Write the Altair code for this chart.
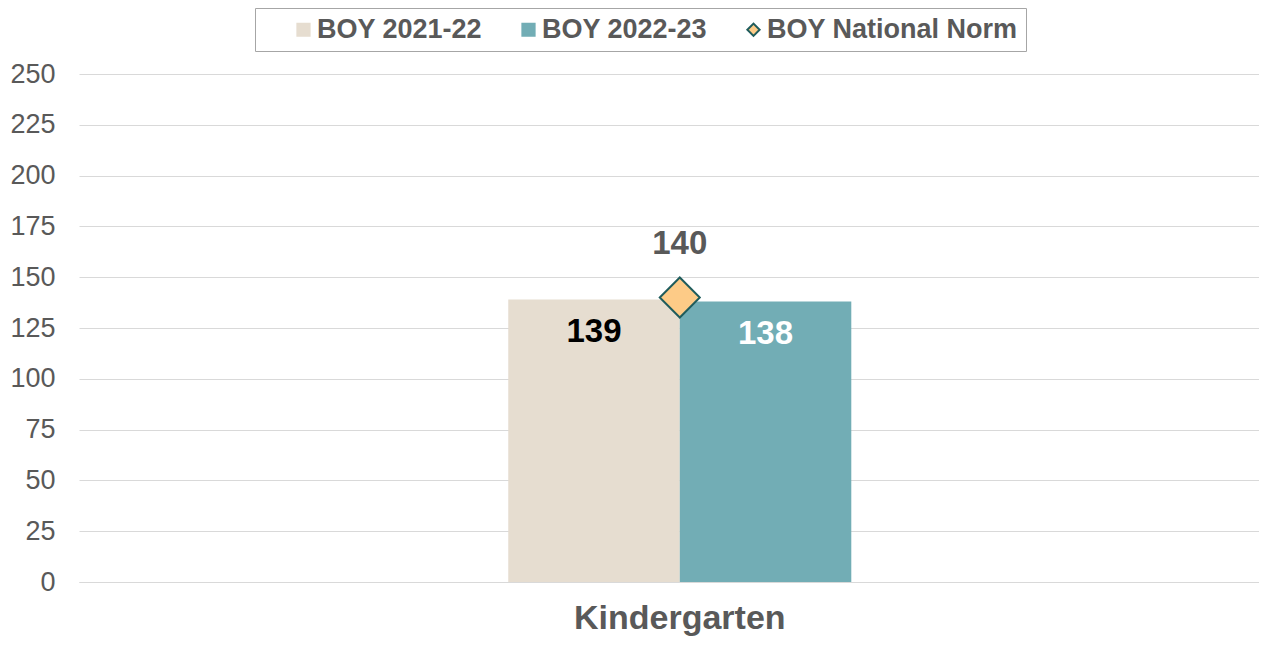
import altair as alt
import pandas as pd

grades = ["Kindergarten"]
series_names = ["BOY 2021-22", "BOY 2022-23", "BOY National Norm"]
boy_2122 = [139]
boy_2223 = [138]
national_norm = [140]

bar_rows = []
for i, g in enumerate(grades):
    bar_rows.append({"grade": g, "series": series_names[0], "value": boy_2122[i]})
    bar_rows.append({"grade": g, "series": series_names[1], "value": boy_2223[i]})
bars_df = pd.DataFrame(bar_rows)
norm_df = pd.DataFrame({"grade": grades, "series": [series_names[2]] * len(grades), "value": national_norm})

FONT = "Liberation Sans"
GRAY = "#595959"
PAD_CHAR = "\u2003"

color_scale = alt.Scale(domain=series_names, range=["#E6DDD0", "#72ADB5", "#FDCB87"])
stroke_scale = alt.Scale(domain=series_names, range=["#E6DDD0", "#72ADB5", "#1F5C5C"])
shape_scale = alt.Scale(domain=series_names, range=["square", "square", "diamond"])

x_enc = alt.X(
    "grade:N",
    title=None,
    scale=alt.Scale(paddingInner=0, paddingOuter=1, align=0.5137),
    axis=alt.Axis(labelAngle=0, labelFont=FONT, labelFontSize=34, labelFontWeight="bold",
                  labelColor=GRAY, labelPadding=19, labelLimit=1000, ticks=False, domain=True,
                  domainColor="#D9D9D9", domainWidth=1),
)
y_enc = alt.Y(
    "value:Q",
    title=None,
    scale=alt.Scale(domain=[0, 250], nice=False),
    axis=alt.Axis(values=list(range(0, 251, 25)), labelFont=FONT, labelFontSize=27,
                  labelColor=GRAY, labelPadding=24, ticks=False, domain=False,
                  gridColor="#D9D9D9", gridWidth=1),
)
xoff = alt.XOffset("series:N", scale=alt.Scale(domain=series_names[:2], paddingInner=0, paddingOuter=0.1466))

legend = alt.Legend(
    title=None, orient="none", legendX=176, legendY=-66, direction="horizontal",
    labelFont=FONT, labelFontSize=27, labelFontWeight="bold", labelColor=GRAY, labelLimit=1000,
    labelExpr="datum.label == 'BOY National Norm' ? datum.label + '" + PAD_CHAR + "' : datum.label",
    symbolSize=150, symbolStrokeWidth=2, symbolOffset=27, labelOffset=0, columnPadding=5,
    strokeColor="#A6A6A6", padding=8, fillColor="white",
)

bars = alt.Chart(bars_df).mark_bar().encode(
    x=x_enc, y=y_enc, xOffset=xoff,
    color=alt.Color("series:N", scale=color_scale, legend=legend),
)

bar_text = alt.Chart(bars_df).mark_text(
    font=FONT, fontSize=33, fontWeight="bold", dy=32, baseline="middle"
).encode(
    x=x_enc, y=y_enc, xOffset=xoff, text=alt.Text("value:Q"),
    color=alt.condition(alt.datum.series == series_names[0], alt.value("#000000"), alt.value("#FFFFFF")),
)

norm_pts = alt.Chart(norm_df).mark_point(filled=True, size=1600, strokeWidth=2, opacity=1).encode(
    x=x_enc, y=y_enc,
    color=alt.Color("series:N", scale=color_scale, legend=legend),
    shape=alt.Shape("series:N", scale=shape_scale, legend=legend),
    stroke=alt.Stroke("series:N", scale=stroke_scale, legend=legend),
)

norm_text = alt.Chart(norm_df).mark_text(
    font=FONT, fontSize=33, fontWeight="bold", dy=-54, baseline="middle", color=GRAY
).encode(x=x_enc, y=y_enc, text=alt.Text("value:Q"))

chart = alt.layer(bars, bar_text, norm_pts, norm_text).properties(
    width=1180, height=508,
    autosize=alt.AutoSizeParams(type="none"),
    padding={"left": 71, "top": 66, "right": 0, "bottom": 55},
).configure_view(stroke=None)

chart.save("out.html", embed_options={"renderer": "svg", "actions": False})
